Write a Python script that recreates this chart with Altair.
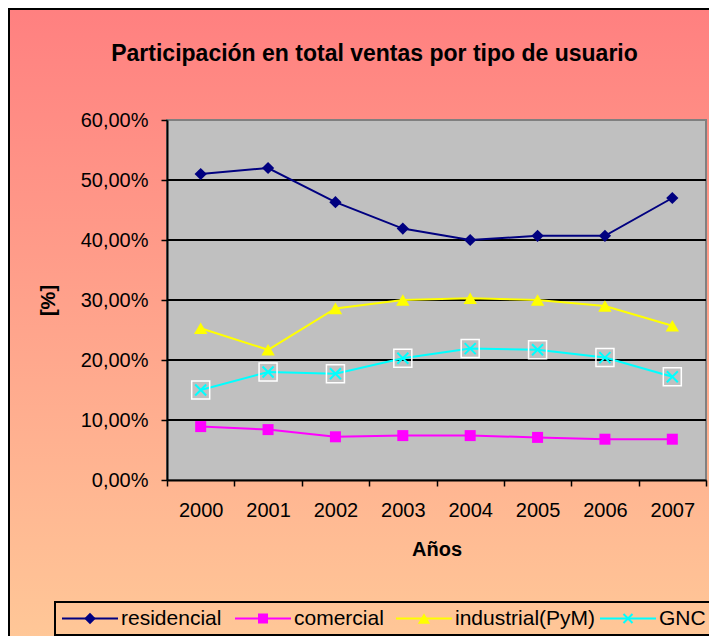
import altair as alt
import pandas as pd

title_text = "Participación en total ventas por tipo de usuario"
years = ["2000", "2001", "2002", "2003", "2004", "2005", "2006", "2007"]
series = ["residencial", "comercial", "industrial(PyM)", "GNC"]
residencial = [51.0, 52.0, 46.3, 41.9, 40.0, 40.7, 40.7, 47.0]
comercial = [8.9, 8.4, 7.2, 7.4, 7.4, 7.1, 6.8, 6.8]
industrial = [25.3, 21.7, 28.6, 30.0, 30.3, 30.0, 29.0, 25.7]
gnc = [15.0, 18.0, 17.7, 20.3, 21.9, 21.7, 20.4, 17.2]
y_ticks = [0.0, 0.1, 0.2, 0.3, 0.4, 0.5, 0.6]
grid_ticks = [0.1, 0.2, 0.3, 0.4, 0.5]

colors = ["#000080", "#FF00FF", "#FFFF00", "#00FFFF"]
FONT = "Liberation Sans"
W, H = 539, 360
X_PATH = "M-1,-1L1,1M-1,1L1,-1"

rows = []
for name, vals in zip(series, [residencial, comercial, industrial, gnc]):
    for yr, v in zip(years, vals):
        rows.append({"year": yr, "serie": name, "value": v / 100.0})
df = pd.DataFrame(rows)
grid_df = pd.DataFrame({"v": grid_ticks})
title_df = pd.DataFrame({"t": [title_text]})

x_enc = alt.X("year:O", sort=years,
              scale=alt.Scale(paddingInner=0, paddingOuter=0),
              axis=alt.Axis(title="Años", labelAngle=0, tickBand="extent",
                            domainColor="black", domainWidth=2, tickColor="black",
                            tickWidth=1.5, tickSize=6, labelFontSize=20, labelFont=FONT,
                            labelColor="black", labelPadding=14, titleFont=FONT,
                            titleFontSize=20, titleFontWeight="bold", titleColor="black",
                            titleY=69, titleBaseline="middle", zindex=1, grid=False))
y_enc = alt.Y("value:Q", scale=alt.Scale(domain=[0, 0.6], nice=False),
              axis=alt.Axis(title="[%]", values=y_ticks, format=".2%", grid=False,
                            domainColor="black", domainWidth=2, tickColor="black",
                            tickWidth=1.5, tickSize=6, labelFontSize=20, labelFont=FONT,
                            labelColor="black", labelPadding=13, titleFont=FONT,
                            titleFontSize=20, titleFontWeight="bold", titleColor="black",
                            titleX=-119, titleY=180, titleAlign="center",
                            titleBaseline="middle", zindex=1))

base = alt.Chart(df)

bg = base.mark_rect(
    fill=alt.Gradient(gradient="linear",
                      stops=[alt.GradientStop(color="#FF8080", offset=0),
                             alt.GradientStop(color="#FFCC99", offset=1)],
                      x1=0, x2=0, y1=0, y2=1),
    stroke="black", strokeWidth=2,
).encode(x=alt.value(-158), x2=alt.value(W + 40), y=alt.value(-111), y2=alt.value(H + 200))

plot_bg = base.mark_rect(fill="#C0C0C0", stroke="#808080", strokeWidth=2).encode(
    x=alt.value(0), x2=alt.value(W), y=alt.value(0), y2=alt.value(H))

title = alt.Chart(title_df).mark_text(font=FONT, fontSize=23, fontWeight="bold", color="black",
                                      align="center", baseline="alphabetic").encode(
    text="t:N", x=alt.value(207.5), y=alt.value(-59))

grid = alt.Chart(grid_df).mark_rule(color="black", strokeWidth=2).encode(
    x=alt.value(0), x2=alt.value(W),
    y=alt.Y("v:Q", scale=alt.Scale(domain=[0, 0.6], nice=False)))

lines = base.mark_line(strokeWidth=2).encode(
    x=x_enc, y=y_enc,
    color=alt.Color("serie:N", scale=alt.Scale(domain=series, range=colors), legend=None),
    detail="serie:N")

def pts(name, **kw):
    return base.transform_filter(alt.datum.serie == name).mark_point(**kw).encode(
        x=alt.X("year:O", sort=years), y="value:Q")

p_res = pts("residencial", shape="diamond", size=150, filled=True, color="#000080", opacity=1)
p_com = pts("comercial", shape="square", size=121, filled=True, color="#FF00FF", opacity=1)
p_ind = pts("industrial(PyM)", shape="triangle-up", size=180, filled=True, color="#FFFF00", opacity=1)
p_gnc_box = pts("GNC", shape="square", size=324, filled=False, stroke="white", strokeWidth=1.5, opacity=1)
p_gnc_x = pts("GNC", shape=X_PATH, size=121, filled=False, stroke="#00FFFF",
              strokeWidth=2, opacity=1)

# ---- legend (drawn as marks, box at the bottom) ----
leg_x = [-105, 68, 229, 433]   # left end of each legend line sample (plot coords)
leg_y = 498.5
leg_box = alt.Chart(title_df).mark_rect(fill="transparent", stroke="black", strokeWidth=2).encode(
    x=alt.value(-112), x2=alt.value(W + 40), y=alt.value(482), y2=alt.value(515))
leg_shapes = [("diamond", 130, True), ("square", 100, True), ("triangle-up", 150, True),
              (X_PATH, 81, False)]
leg_layers = [leg_box]
for name, col, lx, (shp, sz, fl) in zip(series, colors, leg_x, leg_shapes):
    ldf = pd.DataFrame({"serie": [name]})
    c = alt.Chart(ldf)
    leg_layers.append(c.mark_rule(color=col, strokeWidth=2).encode(
        x=alt.value(lx), x2=alt.value(lx + 56), y=alt.value(leg_y)))
    if fl:
        leg_layers.append(c.mark_point(shape=shp, size=sz, filled=True, color=col, opacity=1).encode(
            x=alt.value(lx + 28), y=alt.value(leg_y)))
    else:
        leg_layers.append(c.mark_point(shape=shp, size=sz, filled=False, stroke=col, strokeWidth=2,
                                       opacity=1).encode(x=alt.value(lx + 28), y=alt.value(leg_y)))
    leg_layers.append(c.mark_text(font=FONT, fontSize=21, color="black", align="left",
                                  baseline="middle").encode(
        text="serie:N", x=alt.value(lx + 59), y=alt.value(leg_y)))

chart = alt.layer(bg, plot_bg, title, grid, lines, p_res, p_com, p_ind, p_gnc_box, p_gnc_x,
                  *leg_layers).properties(
    width=W, height=H,
    autosize=alt.AutoSizeParams(type="none"),
    padding={"left": 159, "top": 112, "right": 3, "bottom": 156},
).configure(
    locale={"number": {"decimal": ",", "thousands": ".", "grouping": [3], "currency": ["", "€"]}},
).configure_view(stroke=None)

chart.save("out.html", embed_options={"renderer": "svg", "actions": False})
